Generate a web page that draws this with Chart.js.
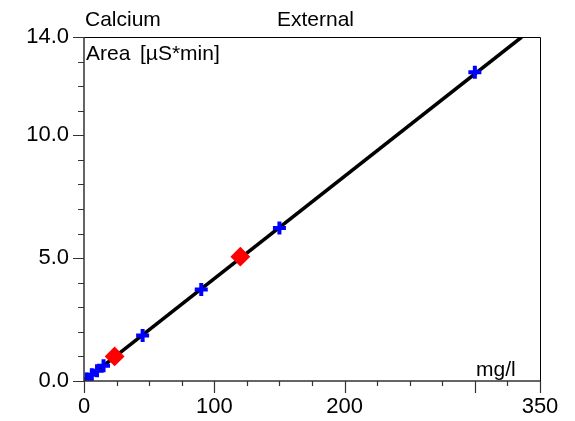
<!DOCTYPE html>
<html>
<head>
<meta charset="utf-8">
<script src="https://cdn.jsdelivr.net/npm/chart.js@4"></script>
<style>
  html, body { margin: 0; padding: 0; background: #fff; }
  #wrap { width: 575px; height: 421px; }
</style>
</head>
<body>
<div id="wrap"><canvas id="chart" width="575" height="421"></canvas></div>
<script>
// calibration standards (blue crosses)
const standardConc = [2, 6, 10, 15, 45, 90, 150, 300];
const standardArea = [0.08, 0.25, 0.42, 0.62, 1.85, 3.72, 6.23, 12.57];
// samples (red diamonds)
const sampleConc = [23.5, 120];
const sampleArea = [1.0, 5.06];
// calibration line end points
const lineConc = [0, 336];
const lineArea = [0, 14];

const xLabels = [0, 100, 200, 350];
const xMajor = [0, 100, 200, 300, 350];
const yLabels = [0, 5, 10, 14];

const FONT = 'Liberation Sans, Arial, sans-serif';

function toPoints(xs, ys) {
  return xs.map((x, i) => ({ x, y: ys[i] }));
}

const decorations = {
  id: 'decorations',
  afterDraw(chart) {
    const { ctx, chartArea: a, scales } = chart;
    const xs = scales.x;
    const ys = scales.y;
    ctx.save();

    // frame
    ctx.strokeStyle = '#000';
    ctx.lineWidth = 1;
    ctx.beginPath();
    ctx.moveTo(a.left, a.top + 0.5);
    ctx.lineTo(a.right + 0.5, a.top + 0.5);
    ctx.lineTo(a.right + 0.5, a.bottom);
    ctx.stroke();

    // axes
    ctx.strokeStyle = '#333';
    ctx.lineWidth = 1.5;
    ctx.beginPath();
    ctx.moveTo(a.left, a.top);
    ctx.lineTo(a.left, a.bottom);
    ctx.lineTo(a.right, a.bottom);
    ctx.stroke();

    // tick marks
    ctx.lineWidth = 1.2;
    ctx.beginPath();
    for (let v = 0; v <= 350; v += 25) {
      const px = Math.round(xs.getPixelForValue(v)) + 0.5;
      const len = xMajor.includes(v) ? 12 : 5;
      ctx.moveTo(px, a.bottom);
      ctx.lineTo(px, a.bottom + len);
    }
    for (let v = 0; v <= 14; v += 1) {
      const py = Math.round(ys.getPixelForValue(v)) + 0.5;
      const len = yLabels.includes(v) ? 11 : 6;
      ctx.moveTo(a.left, py);
      ctx.lineTo(a.left - len, py);
    }
    ctx.stroke();

    // texts
    ctx.fillStyle = '#000';
    ctx.font = '21px ' + FONT;
    ctx.textBaseline = 'alphabetic';
    ctx.textAlign = 'left';
    ctx.fillText('Calcium', 85, 26);
    ctx.fillText('External', 277, 26);
    ctx.fillText('Area', 86, 60);
    ctx.fillText('[µS*min]', 140, 60);
    ctx.fillText('mg/l', 476, 376);
    ctx.restore();
  },
};

new Chart(document.getElementById('chart'), {
  type: 'scatter',
  data: {
    datasets: [
      {
        label: 'Samples',
        data: toPoints(sampleConc, sampleArea),
        pointStyle: 'rectRot',
        pointRadius: 8.5,
        pointBackgroundColor: '#ff0000',
        pointBorderColor: '#ff0000',
        pointBorderWidth: 2,
      },
      {
        label: 'Standards',
        data: toPoints(standardConc, standardArea),
        pointStyle: 'cross',
        pointRadius: 6.5,
        pointBorderColor: '#0000ff',
        pointBorderWidth: 4,
      },
      {
        label: 'Calibration',
        data: toPoints(lineConc, lineArea),
        showLine: true,
        borderColor: '#000',
        borderWidth: 3.5,
        pointRadius: 0,
      },
    ],
  },
  options: {
    responsive: false,
    animation: false,
    layout: { padding: { top: 37, right: 35, left: 0, bottom: 0 } },
    plugins: {
      legend: { display: false },
      tooltip: { enabled: false },
    },
    scales: {
      x: {
        type: 'linear',
        min: 0,
        max: 350,
        grid: { display: false, drawTicks: false },
        border: { display: false },
        afterFit: (s) => { s.height = 40; },
        ticks: {
          stepSize: 25,
          autoSkip: false,
          maxRotation: 0,
          padding: 13,
          color: '#000',
          font: { family: FONT, size: 22 },
          callback: (v) => (xLabels.includes(v) ? String(v) : ''),
        },
      },
      y: {
        type: 'linear',
        min: 0,
        max: 14,
        grid: { display: false, drawTicks: false },
        border: { display: false },
        afterFit: (s) => { s.width = 84; },
        ticks: {
          stepSize: 1,
          autoSkip: false,
          padding: 15,
          color: '#000',
          font: { family: FONT, size: 22 },
          callback: (v) => (yLabels.includes(v) ? v.toFixed(1) : ''),
        },
      },
    },
  },
  plugins: [decorations],
});
</script>
</body>
</html>
